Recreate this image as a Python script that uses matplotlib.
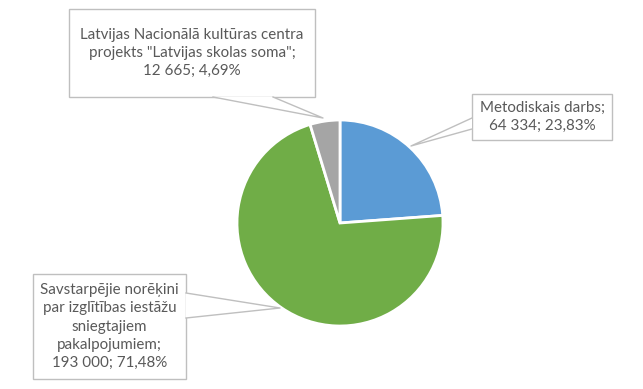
import matplotlib
matplotlib.use("Agg")
import matplotlib.pyplot as plt
from matplotlib.patches import Rectangle, Polygon

categories = ["Metodiskais darbs",
              "Savstarpējie norēķini\npar izglītības iestāžu\nsniegtajiem\npakalpojumiem",
              "Latvijas Nacionālā kultūras centra\nprojekts \"Latvijas skolas soma\""]
values = [64334, 193000, 12665]
colors = ["#5B9BD5", "#70AD47", "#A5A5A5"]

W, H = 643, 389
fig = plt.figure(figsize=(W / 100, H / 100), dpi=100)
ax = fig.add_axes([0, 0, 1, 1])

cx, cy, r = 340, H - 223, 103
ax.pie(values, colors=colors, startangle=90, counterclock=False,
       center=(cx, cy), radius=r, frame=True,
       wedgeprops=dict(edgecolor="white", linewidth=2.0))
ax.set_xlim(0, W)
ax.set_ylim(0, H)
ax.set_aspect("equal")
ax.axis("off")

total = sum(values)


def fmt(v):
    pct = v / total * 100
    return f"{v:,}".replace(",", " ") + "; " + f"{pct:.2f}".replace(".", ",") + "%"


# boxes in pixel coords (x0, y0top, x1, y1bottom), pointer base pts and tip
boxes = [
    dict(box=(472, 94, 612, 140), base=[(472, 118), (472, 129)], tip=(411, 146)),
    dict(box=(33, 274, 186, 379), base=[(186, 293), (186, 318)], tip=(280, 308)),
    dict(box=(69, 9, 315, 97), base=[(213, 97), (273, 97)], tip=(323, 118)),
]
edge = "#BFBFBF"
for i, b in enumerate(boxes):
    x0, y0, x1, y1 = b["box"]
    ax.add_patch(Rectangle((x0, H - y1), x1 - x0, y1 - y0, facecolor="white",
                           edgecolor=edge, linewidth=1.0, zorder=5))
    (bx1, by1), (bx2, by2) = b["base"]
    tx, ty = b["tip"]
    ax.add_patch(Polygon([(bx1, H - by1), (tx, H - ty), (bx2, H - by2)], closed=True,
                         facecolor="white", edgecolor="none", zorder=6))
    ax.plot([bx1, tx, bx2], [H - by1, H - ty, H - by2], color=edge, lw=1.0, zorder=7)
    ax.text((x0 + x1) / 2, H - (y0 + y1) / 2, categories[i] + ";\n" + fmt(values[i]),
            ha="center", va="center", fontsize=10.9, color="#595959",
            family="Lato", linespacing=1.38, zorder=8)

fig.savefig("out.png", dpi=100)
